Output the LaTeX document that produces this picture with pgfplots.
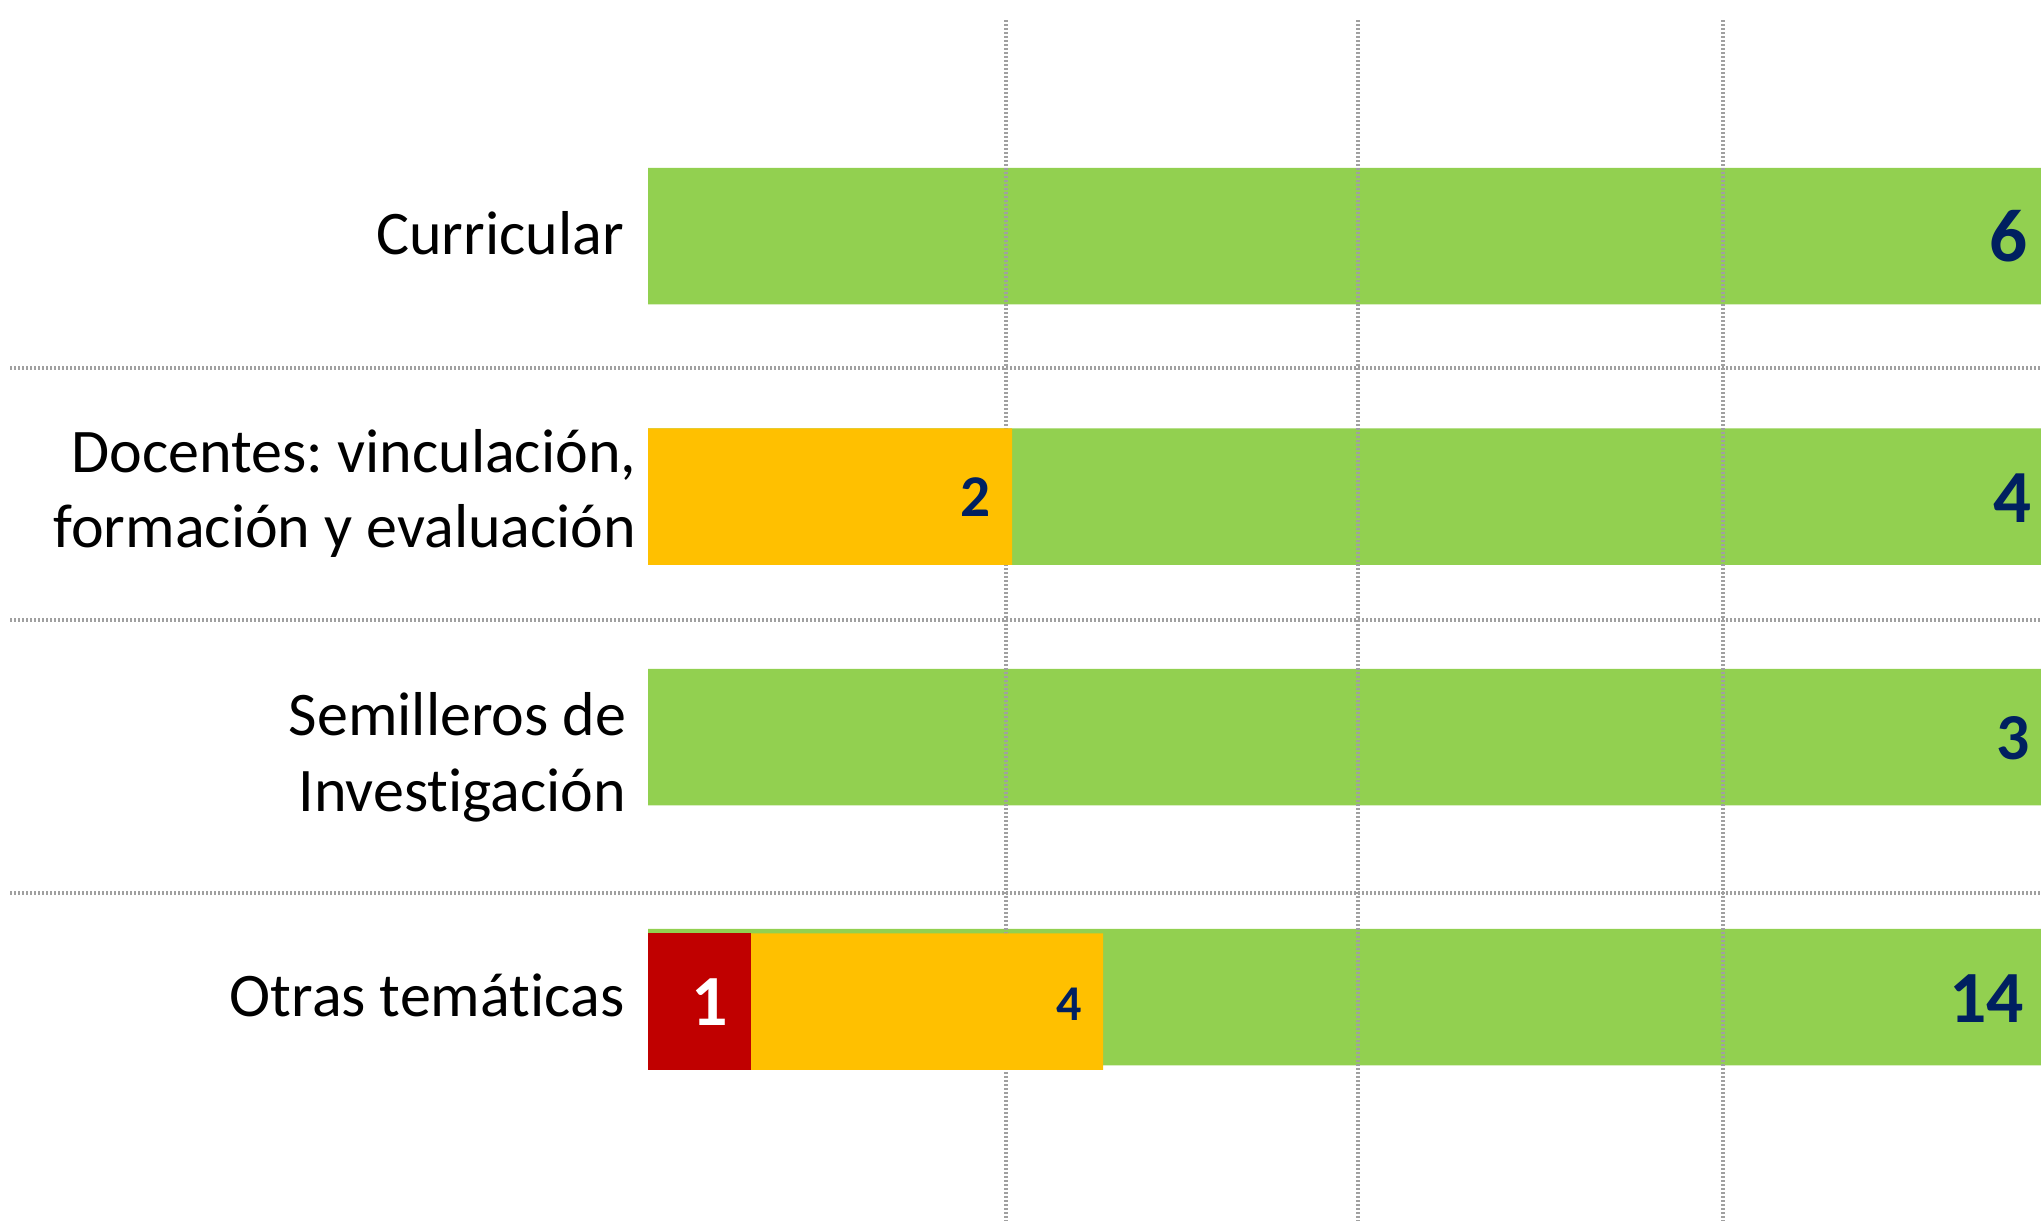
\documentclass[border=0pt]{standalone}
\usepackage{pgfplots}
\pgfplotsset{compat=1.18}
\usepackage{fontspec}
\setmainfont{Carlito}[Ligatures={NoCommon}]
\frenchspacing
\definecolor{cgreen}{HTML}{92D050}
\definecolor{corange}{HTML}{FFC000}
\definecolor{cred}{HTML}{C00000}
\definecolor{cnavy}{HTML}{002060}
\definecolor{cgrid}{HTML}{A0A0A0}
\begin{document}
\begin{tikzpicture}
\begin{axis}[
  scale only axis, width=510.25pt, height=305.25pt,
  xmin=-648, xmax=1393, ymin=0, ymax=1221, y dir=reverse,
  hide axis, xbar, bar width=136.5, clip=true,
]
% green (full) bars
\addplot[draw=none, fill=cgreen, bar shift=0pt] coordinates {(1393,236) (1393,496.5) (1393,737) (1393,997)};
% grid lines
\tikzset{gl/.style={cgrid, line width=0.8pt, dash pattern=on 0.6pt off 0.4pt}}
\draw[gl] (axis cs:-638,368) -- (axis cs:1393,368);
\draw[gl] (axis cs:-638,620) -- (axis cs:1393,620);
\draw[gl] (axis cs:-638,893) -- (axis cs:1393,893);
\draw[gl] (axis cs:358,20) -- (axis cs:358,1221);
\draw[gl] (axis cs:710,20) -- (axis cs:710,1221);
\draw[gl] (axis cs:1075,20) -- (axis cs:1075,1221);
% orange bars
\addplot[draw=none, fill=corange, bar shift=0pt] coordinates {(364,496.5) (455,1001.5)};
% red bar
\addplot[draw=none, fill=cred, bar shift=0pt] coordinates {(103,1001.5)};
% category labels
\tikzset{cat/.style={anchor=base east, inner sep=0pt, font=\fontsize{15.5}{18}\selectfont}}
\node[cat] at (axis cs:-23.5,254) {Curricular};
\node[cat] at (axis cs:-11,472) {Docentes: vinculación,};
\node[cat] at (axis cs:-11,547) {formación y evaluación};
\node[cat] at (axis cs:-21,735) {Semilleros de};
\node[cat] at (axis cs:-21,811) {Investigación};
\node[cat] at (axis cs:-23,1016) {Otras temáticas};
% value labels
\tikzset{val/.style={anchor=base east, inner sep=0pt, text=cnavy}}
\node[val, font=\bfseries\fontsize{18.75}{20}\selectfont] at (axis cs:1380,261) {6};
\node[val, font=\bfseries\fontsize{14.8}{16}\selectfont] at (axis cs:343,516) {2};
\node[val, font=\bfseries\fontsize{18.75}{20}\selectfont] at (axis cs:1384,522) {4};
\node[val, font=\bfseries\fontsize{16.4}{18}\selectfont] at (axis cs:1383,759) {3};
\node[val, font=\bfseries\fontsize{12.5}{14}\selectfont] at (axis cs:435,1020) {4};
\node[val, font=\bfseries\fontsize{18}{20}\selectfont, text=white] at (axis cs:80.5,1025) {1};
\node[val, font=\bfseries\fontsize{18.4}{20}\selectfont] at (axis cs:1377,1022) {14};
\end{axis}
\path (current axis.south west) rectangle (current axis.north east);
\end{tikzpicture}
\end{document}
